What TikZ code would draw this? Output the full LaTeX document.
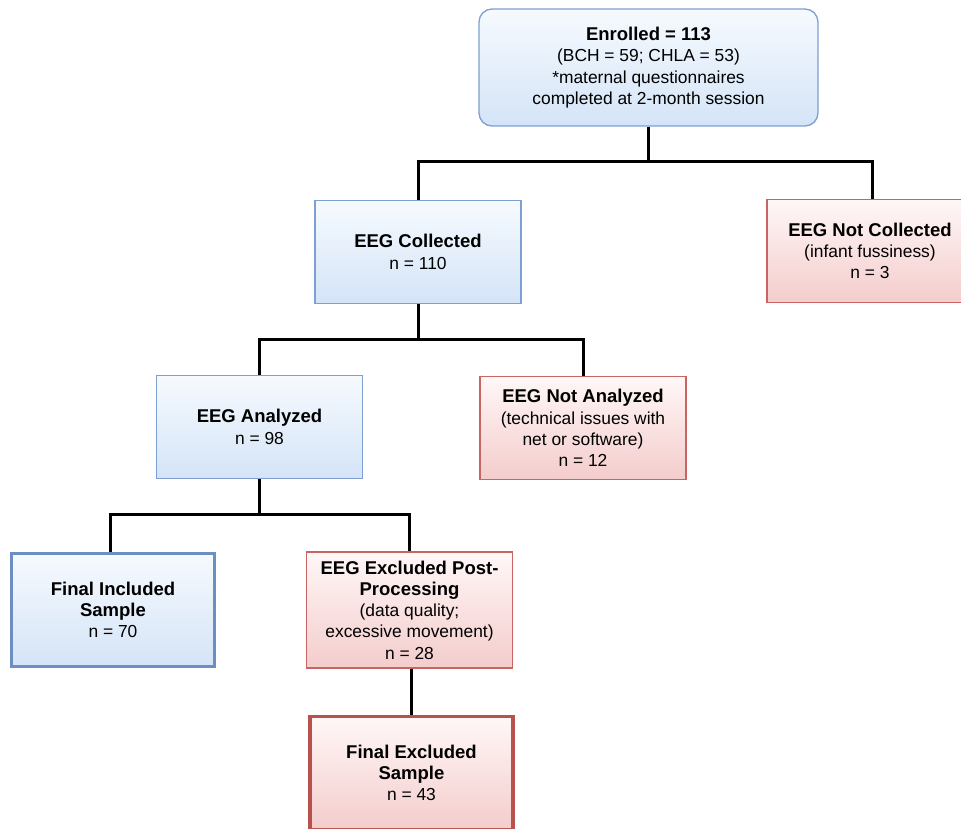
\documentclass[tikz,border=0pt]{standalone}
\usepackage{fontspec}
\setmainfont{Liberation Sans}
\usepackage{tikz}
\definecolor{bluetop}{HTML}{F6FAFE}
\definecolor{bluebot}{HTML}{D4E4F7}
\definecolor{blueline}{HTML}{7D9FD2}
\definecolor{bluethick}{HTML}{6C8EC2}
\definecolor{redtop}{HTML}{FFF7F7}
\definecolor{redbot}{HTML}{F4CCCC}
\definecolor{redline}{HTML}{C86462}
\definecolor{redthick}{HTML}{B8524F}
\newcommand{\hd}{\fontsize{18.5}{21.5}\selectfont\bfseries}
\tikzset{%
  box/.style={draw,line width=1.3pt,align=center,inner sep=2pt,
    font=\fontsize{17.4}{21.3}\selectfont,minimum width=206pt,minimum height=103pt},
  bluebox/.style={box,draw=blueline,top color=bluetop,bottom color=bluebot},
  redbox/.style={box,draw=redline,top color=redtop,bottom color=redbot},
  finalbox/.style={line width=3.5pt,minimum width=203pt,minimum height=113pt},
  conn/.style={draw=black,line width=3pt}
}
\begin{document}
\begin{tikzpicture}[x=1pt,y=-1pt]
  \useasboundingbox (0,0) rectangle (961,829);
  \path
    (648.5,67.5) node (enrolled)[bluebox,rounded corners=13pt,minimum width=339pt,minimum height=117pt]
      {{\hd Enrolled = 113}\\(BCH = 59; CHLA = 53)\\{}*maternal questionnaires\\completed at 2-month session}
    (418,252) node (collected)[bluebox]{{\hd EEG Collected}\\n = 110}
    (870,251) node (notcollected)[redbox]{{\hd EEG Not Collected}\\(infant fussiness)\\n = 3}
    (259.5,427) node (analyzed)[bluebox]{{\hd EEG Analyzed}\\n = 98}
    (583,428) node (notanalyzed)[redbox]{{\hd EEG Not Analyzed}\\(technical issues with\\net or software)\\n = 12}
    (113,610) node (included)[bluebox,finalbox,draw=bluethick]{{\hd Final Included}\\{\hd Sample}\\n = 70}
    (409.5,610) node (postproc)[redbox,minimum height=116pt]
      {{\hd EEG Excluded Post-}\\{\hd Processing}\\(data quality;\\excessive movement)\\n = 28}
    (411.5,773) node (excluded)[redbox,finalbox,draw=redthick]{{\hd Final Excluded}\\{\hd Sample}\\n = 43};
  \coordinate (bus1) at (0,162);
  \coordinate (bus2) at (0,339);
  \coordinate (bus3) at (0,514);
  \draw[conn] (enrolled.south) -- (enrolled.south |- bus1);
  \draw[conn] (collected.north) -- (collected.north |- bus1) -| ([xshift=2pt]notcollected.north);
  \draw[conn] (collected.south) -- (collected.south |- bus2);
  \draw[conn] (analyzed.north) -- (analyzed.north |- bus2) -| (notanalyzed.north);
  \draw[conn] (analyzed.south) -- (analyzed.south |- bus3);
  \draw[conn] ([xshift=-3pt]included.north) -- ([xshift=-3pt]included.north |- bus3) -| (postproc.north);
  \draw[conn] ([xshift=2pt]postproc.south) -- ([xshift=2pt]postproc.south |- excluded.north);
\end{tikzpicture}
\end{document}
